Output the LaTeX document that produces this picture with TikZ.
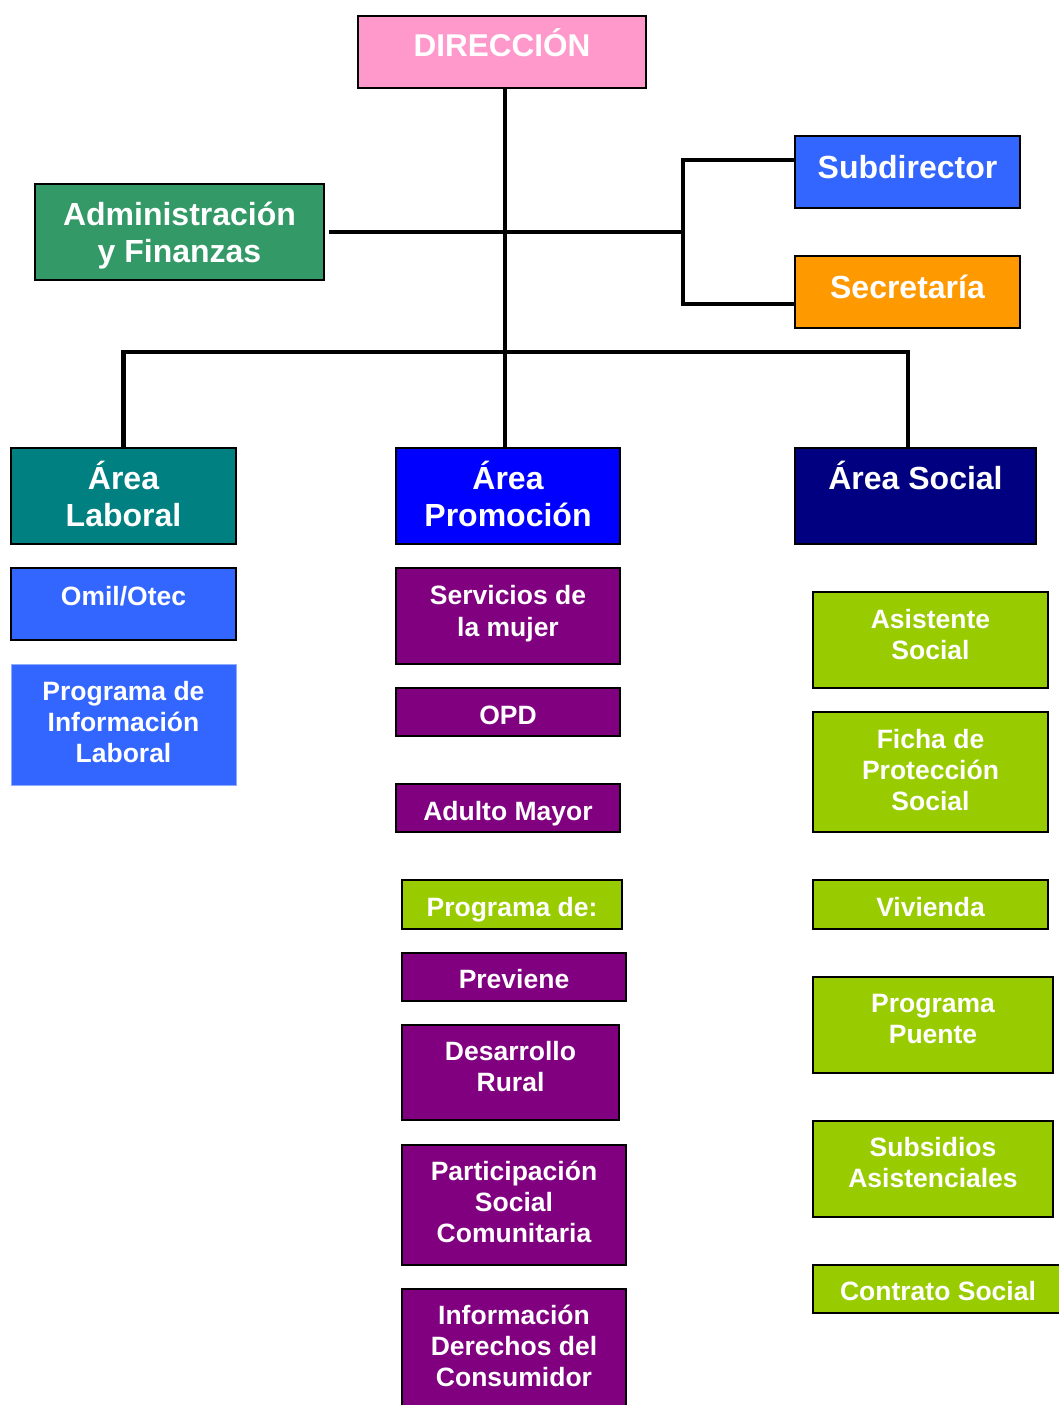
\documentclass[tikz,border=0pt]{standalone}
\usepackage{fontspec}
\setmainfont{Liberation Sans}
\definecolor{cPink}{HTML}{FF99CC}
\definecolor{cGreen}{HTML}{339966}
\definecolor{cBlue}{HTML}{3366FF}
\definecolor{cOrange}{HTML}{FF9900}
\definecolor{cTeal}{HTML}{008080}
\definecolor{cPureBlue}{HTML}{0000FF}
\definecolor{cNavy}{HTML}{000080}
\definecolor{cPurple}{HTML}{800080}
\definecolor{cLime}{HTML}{99CC00}
\newcommand\bt[6]{\parbox[t][#2pt][t]{#1pt}{\centering\fontsize{#3pt}{#4pt}\selectfont\rule{0pt}{#5pt}#6\par}}
\tikzset{
  box/.style={draw=black, line width=1.5pt, inner sep=0pt, outer sep=0pt, anchor=north west, text=white, font=\bfseries},
  conn/.style={draw=black, line width=4.5pt},
}
\begin{document}
\begin{tikzpicture}[x=1pt, y=-1pt]
\useasboundingbox (0,0) rectangle (1059,1405);
\clip (0,0) rectangle (1059,1405);
% top level
\node[box, fill=cPink] (dir) at (358,16) {\bt{288}{72}{31.5}{37}{41}{DIRECCIÓN}};
\node[box, fill=cGreen] (adm) at (35,184) {\bt{289}{96}{32}{37}{41}{Administración\\y Finanzas}};
\node[box, fill=cBlue] (sub) at (795,136) {\bt{225}{72}{32}{37}{42}{Subdirector}};
\node[box, fill=cOrange] (sec) at (795,256) {\bt{225}{72}{32}{37}{42}{Secretaría}};
% areas
\node[box, fill=cTeal] (lab) at (11,448) {\bt{225}{96}{32}{37}{41}{Área\\Laboral}};
\node[box, fill=cPureBlue] (prom) at (396,448) {\bt{224}{96}{32}{37}{41}{Área\\Promoción}};
\node[box, fill=cNavy] (soc) at (795,448) {\bt{241}{96}{32}{37}{41}{Área Social}};
% laboral column
\node[box, fill=cBlue] (omil) at (11,568) {\bt{225}{72}{26.5}{31}{37}{Omil/Otec}};
\node[box, fill=cBlue, draw=cBlue!55!white, line width=1pt] (pil) at (11,664) {\bt{225}{121}{26.5}{31}{36}{Programa de\\Información\\Laboral}};
% promocion column
\node[box, fill=cPurple] (serv) at (396,568) {\bt{224}{96}{26.5}{32}{36}{Servicios de\\la mujer}};
\node[box, fill=cPurple] (opd) at (396,688) {\bt{224}{48}{26.5}{31}{36}{OPD}};
\node[box, fill=cPurple] (adul) at (396,784) {\bt{224}{48}{26.5}{31}{36}{Adulto Mayor}};
\node[box, fill=cLime] (progde) at (402,880) {\bt{220}{49}{26.5}{31}{36}{Programa de:}};
\node[box, fill=cPurple] (prev) at (402,953) {\bt{224}{48}{26.5}{31}{35}{Previene}};
\node[box, fill=cPurple] (desa) at (402,1025) {\bt{217}{95}{26.5}{31}{35}{Desarrollo\\Rural}};
\node[box, fill=cPurple] (part) at (402,1145) {\bt{224}{120}{26.5}{31}{35}{Participación\\Social\\Comunitaria}};
\node[box, fill=cPurple] (info) at (402,1289) {\bt{224}{130}{26.5}{31}{35}{Información\\Derechos del\\Consumidor}};
% social column
\node[box, fill=cLime] (asis) at (813,592) {\bt{235}{96}{26.5}{31}{36}{Asistente\\Social}};
\node[box, fill=cLime] (ficha) at (813,712) {\bt{235}{120}{26.5}{31}{36}{Ficha de\\Protección\\Social}};
\node[box, fill=cLime] (viv) at (813,880) {\bt{235}{49}{26.5}{31}{36}{Vivienda}};
\node[box, fill=cLime] (puente) at (813,977) {\bt{240}{96}{26.5}{31}{35}{Programa\\Puente}};
\node[box, fill=cLime] (subs) at (813,1121) {\bt{240}{96}{26.5}{31}{35}{Subsidios\\Asistenciales}};
\node[box, fill=cLime] (contr) at (813,1265) {\bt{250}{48}{26.5}{31}{35}{Contrato Social}};
% connectors
\coordinate (jc) at (505,232);
\coordinate (jr) at (683,232);
\coordinate (jb) at (505,352);
\draw[conn] (dir.south -| jc) -- (prom.north -| jc);
\draw[conn] ([xshift=5pt]adm.east) -- (jr);
\draw[conn] ([yshift=12pt]sub.west) -| (jr) |- ([yshift=-12pt]sec.west);
\draw[conn] (lab.north) |- (jb) -| ([xshift=-7.5pt]soc.north);
\end{tikzpicture}
\end{document}
